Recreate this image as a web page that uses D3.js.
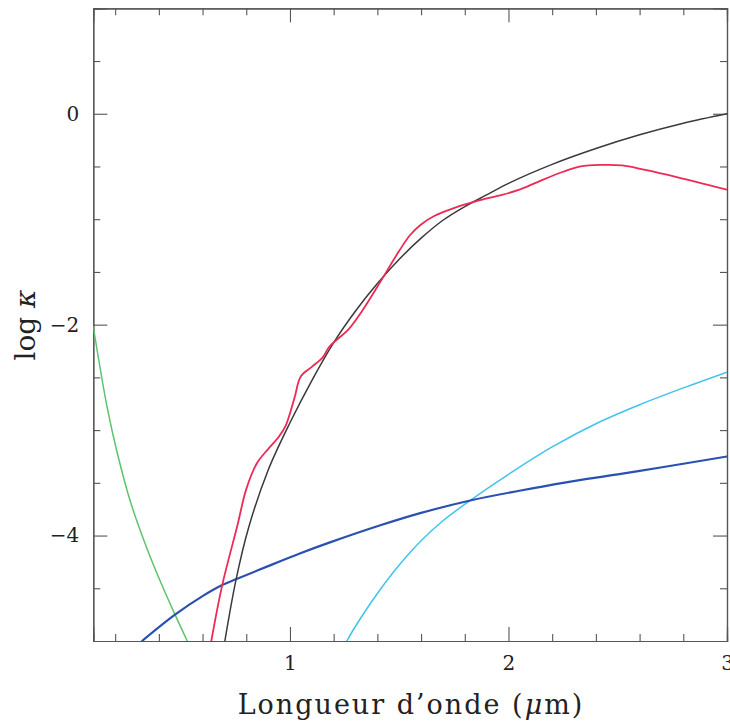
<!DOCTYPE html>
<html><head><meta charset="utf-8">
<script src="https://cdn.jsdelivr.net/npm/d3@7"></script>
<style>body{margin:0;background:#fff}svg{display:block}</style>
</head><body><svg id="c" width="730" height="721"></svg>
<script>
// Tick values
const xMajor = [1, 2, 3];
const xMinor = [0.2, 0.4, 0.6, 0.8, 1.2, 1.4, 1.6, 1.8, 2.2, 2.4, 2.6, 2.8];
const yMajor = [0, -2, -4];
const yMinor = [0.5, -0.5, -1, -1.5, -2.5, -3, -3.5, -4.5];

// Series: [wavelength (µm), log kappa]
const greenSeries = [[0.1,-2.02],[0.163,-2.78],[0.21,-3.22],[0.27,-3.68],[0.345,-4.12],[0.41,-4.45],[0.474,-4.75],[0.53,-5.0]];
const blueSeries  = [[0.323,-5.0],[0.474,-4.75],[0.6,-4.575],[0.69,-4.47],[0.753,-4.415],[0.9,-4.29],[1.045,-4.17],[1.183,-4.065],[1.41,-3.905],[1.6,-3.785],[1.83,-3.665],[2.05,-3.575],[2.25,-3.5],[2.5,-3.42],[2.71,-3.35],[3.0,-3.25]];
const cyanSeries  = [[1.26,-5.0],[1.3,-4.86],[1.4,-4.55],[1.5,-4.28],[1.6,-4.05],[1.7,-3.86],[1.83,-3.66],[2.0,-3.42],[2.2,-3.16],[2.4,-2.94],[2.6,-2.76],[2.8,-2.6],[3.0,-2.45]];
const blackSeries = [[0.702,-5.0],[0.753,-4.42],[0.81,-3.93],[0.9,-3.38],[1.0,-2.93],[1.1,-2.53],[1.2,-2.17],[1.3,-1.87],[1.4,-1.61],[1.5,-1.38],[1.6,-1.18],[1.7,-1.01],[1.8,-0.88],[1.9,-0.77],[2.0,-0.66],[2.2,-0.48],[2.4,-0.33],[2.6,-0.2],[2.8,-0.09],[3.0,0.0]];
const redSeries   = [[0.64,-5.0],[0.69,-4.47],[0.76,-3.9],[0.80,-3.56],[0.85,-3.31],[0.90,-3.18],[0.95,-3.06],[0.98,-2.96],[1.02,-2.70],[1.05,-2.49],[1.10,-2.40],[1.15,-2.31],[1.18,-2.21],[1.27,-2.04],[1.33,-1.87],[1.40,-1.64],[1.50,-1.30],[1.55,-1.15],[1.60,-1.05],[1.66,-0.97],[1.75,-0.895],[1.87,-0.82],[1.97,-0.77],[2.05,-0.72],[2.13,-0.65],[2.25,-0.55],[2.33,-0.50],[2.42,-0.485],[2.52,-0.49],[2.62,-0.53],[2.77,-0.60],[3.0,-0.72]];

const svg = d3.select('#c');
const L = 93.3, R = 727, T = 8.3, B = 641;
const x = d3.scaleLinear().domain([0.1, 3]).range([L, R]);
const y = d3.scaleLinear().domain([-5, 1]).range([B, T]);

const font = "'DejaVu Serif', serif";
const axisColor = '#555';

svg.append('defs').append('clipPath').attr('id','clip')
  .append('rect').attr('x',L).attr('y',T).attr('width',R-L).attr('height',B-T);

function styleAxis(g){
  g.select('.domain').attr('stroke', axisColor).attr('stroke-width',1.2);
  g.selectAll('.tick line').attr('stroke', axisColor).attr('stroke-width',1.1);
  g.selectAll('text').attr('font-family', font).attr('fill','#222').attr('font-size',20);
}
// bottom
svg.append('g').attr('transform',`translate(0,${B})`)
  .call(d3.axisBottom(x).tickValues(xMajor).tickSize(-14).tickPadding(15).tickFormat(d3.format('d')))
  .call(styleAxis);
svg.append('g').attr('transform',`translate(0,${B})`)
  .call(d3.axisBottom(x).tickValues(xMinor).tickSize(-7).tickFormat(''))
  .call(styleAxis);
// top
svg.append('g').attr('transform',`translate(0,${T})`)
  .call(d3.axisTop(x).tickValues(xMajor).tickSize(-14).tickFormat(''))
  .call(styleAxis);
svg.append('g').attr('transform',`translate(0,${T})`)
  .call(d3.axisTop(x).tickValues(xMinor).tickSize(-7).tickFormat(''))
  .call(styleAxis);
// left
svg.append('g').attr('transform',`translate(${L},0)`)
  .call(d3.axisLeft(y).tickValues(yMajor).tickSize(-14).tickPadding(14).tickFormat(d3.format('d')))
  .call(styleAxis);
svg.append('g').attr('transform',`translate(${L},0)`)
  .call(d3.axisLeft(y).tickValues(yMinor).tickSize(-7).tickFormat(''))
  .call(styleAxis);
// right
svg.append('g').attr('transform',`translate(${R},0)`)
  .call(d3.axisRight(y).tickValues(yMajor).tickSize(-14).tickFormat(''))
  .call(styleAxis);
svg.append('g').attr('transform',`translate(${R},0)`)
  .call(d3.axisRight(y).tickValues(yMinor).tickSize(-7).tickFormat(''))
  .call(styleAxis);

const line = d3.line().x(d=>x(d[0])).y(d=>y(d[1])).curve(d3.curveCatmullRom.alpha(0.5));
const series = [
  {data: greenSeries, color:'#5cc36e', w:1.5},
  {data: cyanSeries,  color:'#3fc3ef', w:1.5},
  {data: blueSeries,  color:'#2a50b0', w:2.2},
  {data: blackSeries, color:'#3a3a3a', w:1.5},
  {data: redSeries,   color:'#ec2a55', w:1.8}
];
const plot = svg.append('g').attr('clip-path','url(#clip)');
series.forEach(s=>{
  plot.append('path').datum(s.data).attr('d',line)
    .attr('fill','none').attr('stroke',s.color).attr('stroke-width',s.w)
    .attr('stroke-linejoin','round').attr('stroke-linecap','round');
});

// axis titles
const xt = svg.append('text').attr('x',411).attr('y',714).attr('text-anchor','middle')
  .attr('font-family',font).attr('font-size',27).attr('letter-spacing','2px').attr('fill','#222');
xt.append('tspan').text('Longueur d’onde (');
xt.append('tspan').attr('font-style','italic').text('μ');
xt.append('tspan').text('m)');

const yt = svg.append('text').attr('transform',`translate(35,${325}) rotate(-90)`).attr('text-anchor','middle')
  .attr('font-family',font).attr('font-size',28).attr('fill','#222');
yt.append('tspan').text('log ');
yt.append('tspan').attr('font-style','italic').text('κ');
</script></body></html>
